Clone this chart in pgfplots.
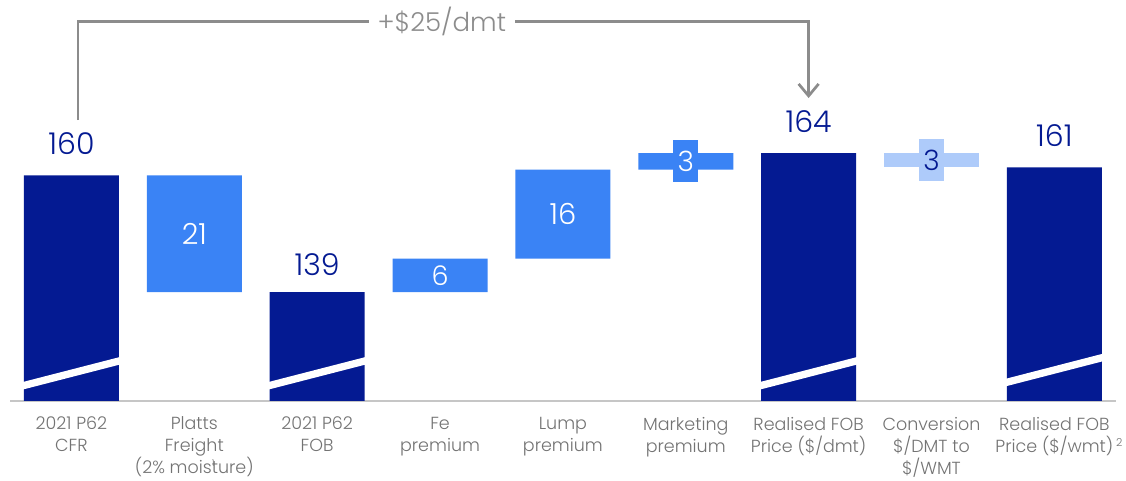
\documentclass[border=0pt]{standalone}
\usepackage{pgfplots}
\pgfplotsset{compat=1.18}
\usetikzlibrary{arrows.meta}
\usepackage{fontspec}
\setmainfont{Poppins Light}
\definecolor{navy}{HTML}{041A92}
\definecolor{midblue}{HTML}{3A83F5}
\definecolor{lightblue}{HTML}{AECBFA}
\definecolor{labgray}{HTML}{737373}
\definecolor{brgray}{HTML}{8C8C8C}
\tikzset{
  totlab/.style={anchor=base, text=navy, font=\fontsize{30}{30}\selectfont, inner sep=0pt, yshift=21pt},
  slash/.style={white, line width=7.3pt},
}
\begin{document}
\begin{tikzpicture}
\useasboundingbox (-10pt,-79pt) rectangle (1116pt,401pt);
\begin{axis}[
  scale only axis, width=1105.9pt, height=392.5pt,
  xmin=-0.5, xmax=8.5, ymin=119.4, ymax=190,
  ybar stacked, bar width=95pt,
  axis x line*=bottom, axis y line=none,
  x axis line style={draw=gray!45, line width=1.6pt},
  xtick={0,...,8}, xtick style={draw=none}, major tick length=0pt,
  xticklabels={
    {2021 P62\\CFR},
    {Platts\\Freight\\(2\% mois\makebox[0pt][l]{\raisebox{0.75ex}{\fontsize{9}{9}\selectfont 1}}ture)},
    {2021 P62\\FOB},
    {Fe\\premium},
    {Lump\\premium},
    {Marketing\\premium},
    {Realised FOB\\Price (\$/dmt)},
    {Conversion\\\$/DMT to\\\$/WMT},
    {Realised FOB\\Price (\$/wmt)\rlap{\,\raisebox{0.6ex}{\fontsize{11}{11}\selectfont 2}}}
  },
  xticklabel style={align=center, text=labgray, font=\fontsize{17.5}{22}\selectfont, anchor=north, yshift=-12.5pt},
  ytick=\empty,
  clip mode=individual,
]
\addplot[draw=none, fill=none] coordinates {(0,0) (1,139) (2,0) (3,139) (4,145) (5,161) (6,0) (7,161.4) (8,0)};
\addplot[draw=none, fill=navy] coordinates {(0,160) (1,0) (2,139) (3,0) (4,0) (5,0) (6,164) (7,0) (8,161.4)};
\addplot[draw=none, fill=midblue] coordinates {(0,0) (1,21) (2,0) (3,6) (4,16) (5,3) (6,0) (7,0) (8,0)};
\addplot[draw=none, fill=lightblue] coordinates {(0,0) (1,0) (2,0) (3,0) (4,0) (5,0) (6,0) (7,2.6) (8,0)};

\coordinate (t0) at (axis cs:0,160);
\coordinate (t2) at (axis cs:2,139);
\coordinate (t6) at (axis cs:6,164);
\coordinate (t8) at (axis cs:8,161.4);
\coordinate (s0a) at (axis cs:-0.42,122.0);
\coordinate (s0b) at (axis cs:0.42,126.78);
\coordinate (s2a) at (axis cs:1.58,122.0);
\coordinate (s2b) at (axis cs:2.42,126.78);
\coordinate (s6a) at (axis cs:5.58,122.0);
\coordinate (s6b) at (axis cs:6.42,126.78);
\coordinate (s8a) at (axis cs:7.58,122.58);
\coordinate (s8b) at (axis cs:8.42,127.37);
\coordinate (f1) at (axis cs:1,149.5);
\coordinate (f3) at (axis cs:3,142);
\coordinate (f4) at (axis cs:4,153);
\coordinate (f5) at (axis cs:5,162.5);
\coordinate (f7) at (axis cs:7,162.7);
\coordinate (b1) at (axis cs:0.053,169.9);
\coordinate (b2) at (axis cs:0.053,187.6);
\coordinate (b3) at (axis cs:6,187.6);
\coordinate (b4) at (axis cs:6,173.9);
\coordinate (bt) at (axis cs:3.015,187.6);
\end{axis}

% axis-break slashes
\draw[slash] (s0a) -- (s0b);
\draw[slash] (s2a) -- (s2b);
\draw[slash] (s6a) -- (s6b);
\draw[slash] (s8a) -- (s8b);

% total labels
\node[totlab] at (t0) {160};
\node[totlab, yshift=-4pt] at (t2) {139};
\node[totlab] at (t6) {164};
\node[totlab] at (t8) {161};
% floating labels
\node[text=white, font=\fontsize{29}{29}\selectfont, inner sep=0pt] at (f1) {21};
\node[text=white, font=\fontsize{27}{27}\selectfont, inner sep=0pt] at (f3) {6};
\node[text=white, font=\fontsize{29}{29}\selectfont, inner sep=0pt] at (f4) {16};
\node[fill=midblue, text=white, font=\fontsize{28}{28}\selectfont, inner sep=0pt, minimum width=25pt, minimum height=42pt] at (f5) {3};
\node[fill=lightblue, text=navy, font=\fontsize{28}{28}\selectfont, inner sep=0pt, minimum width=25pt, minimum height=42pt] at (f7) {3};

% bracket
\draw[brgray, line width=2.7pt, -{Straight Barb[length=12pt,width=20pt,line width=2.7pt]}]
  (b1) -- (b2) -- (b3) -- (b4);
\node[fill=white, text=brgray, font=\fontsize{26}{26}\selectfont, inner xsep=9pt, inner ysep=2pt] at (bt) {+\$25/dmt};
\end{tikzpicture}
\end{document}
